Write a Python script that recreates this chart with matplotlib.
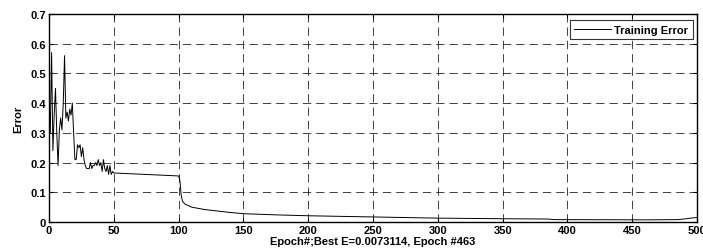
import matplotlib
matplotlib.use("Agg")
import matplotlib.pyplot as plt

epochs = [0, 1, 2, 3, 4, 5, 6, 7, 8, 9, 10, 11, 12, 13, 14, 15, 16, 17, 18, 19,
          20, 21, 22, 23, 24, 25, 26, 27, 28, 29, 30, 31, 32, 33, 34, 35, 36, 37,
          38, 39, 40, 41, 42, 43, 44, 45, 46, 47, 48, 49, 50,
          60, 70, 80, 90, 100, 101, 102, 103, 105, 110, 120, 130, 140, 150,
          175, 200, 225, 250, 275, 300, 325, 350, 385, 390, 463, 485, 490, 495, 500]
errors = [0.42, 0.30, 0.57, 0.24, 0.36, 0.45, 0.30, 0.19, 0.31, 0.35, 0.31, 0.40,
          0.56, 0.35, 0.37, 0.34, 0.38, 0.36, 0.40, 0.30, 0.21, 0.21, 0.26, 0.25,
          0.26, 0.22, 0.25, 0.21, 0.19, 0.18, 0.18, 0.18, 0.20, 0.18, 0.19, 0.19,
          0.20, 0.19, 0.21, 0.19, 0.20, 0.17, 0.21, 0.18, 0.17, 0.19, 0.16, 0.19,
          0.16, 0.17, 0.165,
          0.163, 0.161, 0.159, 0.157, 0.155, 0.14, 0.09, 0.07, 0.06, 0.05, 0.042,
          0.037, 0.032, 0.028, 0.024, 0.021, 0.019, 0.017, 0.015, 0.013, 0.012,
          0.011, 0.010, 0.008, 0.0073, 0.008, 0.010, 0.013, 0.015]

xticks = [0, 50, 100, 150, 200, 250, 300, 350, 400, 450, 500]
yticks = [0, 0.1, 0.2, 0.3, 0.4, 0.5, 0.6, 0.7]
ytick_labels = ["0", "0.1", "0.2", "0.3", "0.4", "0.5", "0.6", "0.7"]

plt.rcParams['font.family'] = ['Liberation Sans', 'DejaVu Sans']
plt.rcParams['font.weight'] = 'bold'
plt.rcParams['font.size'] = 8

fig = plt.figure(figsize=(7.03, 2.53), dpi=100)
ax = fig.add_axes([49/703, 1 - 223/253, (697 - 49)/703, (223 - 15)/253])
ax.plot(epochs, errors, color='black', linewidth=0.7, label='Training Error')
ax.set_xlim(0, 500)
ax.set_ylim(0, 0.7)
ax.set_xticks(xticks)
ax.set_yticks(yticks)
ax.set_yticklabels(ytick_labels)
ax.grid(True, color='#222222', linestyle=(0, (10, 6)), linewidth=0.6)
ax.tick_params(direction='in', top=True, right=True, length=3, width=0.8, pad=2)
for s in ax.spines.values():
    s.set_linewidth(1.0)
ax.set_xlabel('Epoch#;Best E=0.0073114, Epoch #463', fontweight='bold', labelpad=1)
ax.set_ylabel('Error', fontweight='bold', labelpad=5)
leg = ax.legend(loc='upper right', frameon=True, fancybox=False, borderpad=0.4,
                handlelength=3.3, handletextpad=0.3, borderaxespad=0,
                bbox_to_anchor=(0.9935, 0.97), prop={'weight': 'bold', 'size': 8})
leg.get_frame().set_edgecolor('black')
leg.get_frame().set_linewidth(0.8)
fig.savefig('out.png', dpi=100)
